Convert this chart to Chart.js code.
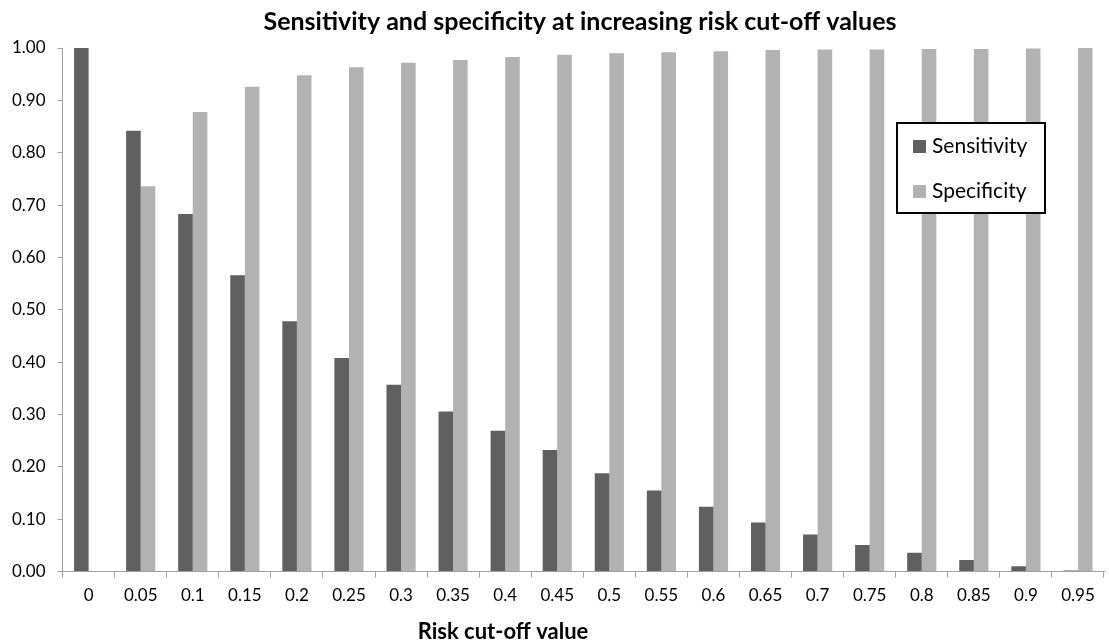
<!DOCTYPE html>
<html>
<head>
<meta charset="utf-8">
<script src="https://cdn.jsdelivr.net/npm/chart.js@4/dist/chart.umd.min.js"></script>
<style>
  html, body { margin: 0; padding: 0; background: #fff; }
  #wrap { width: 1109px; height: 644px; }
</style>
</head>
<body>
<div id="wrap"><canvas id="myChart"></canvas></div>
<script>
// Dados
const cutoffs = ['0', '0.05', '0.1', '0.15', '0.2', '0.25', '0.3', '0.35', '0.4', '0.45',
                 '0.5', '0.55', '0.6', '0.65', '0.7', '0.75', '0.8', '0.85', '0.9', '0.95'];
const sensitivity = [1.00, 0.842, 0.683, 0.566, 0.478, 0.408, 0.357, 0.306, 0.269, 0.232,
                     0.188, 0.155, 0.124, 0.094, 0.071, 0.051, 0.036, 0.022, 0.010, 0.002];
const specificity = [0, 0.736, 0.878, 0.926, 0.948, 0.963, 0.972, 0.977, 0.983, 0.987,
                     0.990, 0.992, 0.994, 0.996, 0.997, 0.997, 0.998, 0.998, 0.999, 1.00];
const seriesNames = ['Sensitivity', 'Specificity'];
const seriesColors = ['#606060', '#b2b2b2'];
const chartTitle = 'Sensitivity and specificity at increasing risk cut-off values';
const xTitle = 'Risk cut-off value';

const FONT = 'Lato, "Open Sans", sans-serif';

// titulo, legenda com moldura preta e titulo do eixo x
const extras = {
    id: 'extras',
    afterDraw(chart) {
        const ctx = chart.ctx;
        ctx.save();
        ctx.fillStyle = '#000';
        ctx.textAlign = 'center';
        ctx.textBaseline = 'middle';
        ctx.font = 'bold 25px ' + FONT;
        ctx.fillText(chartTitle, 580, 22);
        ctx.font = 'bold 22px ' + FONT;
        ctx.fillText(xTitle, 503, 632);

        const x = 897, y = 123, w = 148, h = 90;
        ctx.fillStyle = '#fff';
        ctx.fillRect(x, y, w, h);
        ctx.strokeStyle = '#000';
        ctx.lineWidth = 2;
        ctx.strokeRect(x, y, w, h);
        ctx.font = '21px ' + FONT;
        ctx.textAlign = 'left';
        chart.data.datasets.forEach((ds, i) => {
            const cy = y + 23 + i * 45;
            ctx.fillStyle = ds.backgroundColor;
            ctx.fillRect(x + 16, cy - 6, 13, 13);
            ctx.fillStyle = '#000';
            ctx.fillText(ds.label, x + 35, cy);
        });
        ctx.restore();
    }
};

const ctx = document.getElementById('myChart').getContext('2d');
const myChart = new Chart(ctx, {
    type: 'bar',
    data: {
        labels: cutoffs,
        datasets: [{
            label: seriesNames[0],
            data: sensitivity,
            backgroundColor: seriesColors[0],
            borderWidth: 0
        }, {
            label: seriesNames[1],
            data: specificity,
            backgroundColor: seriesColors[1],
            borderWidth: 0
        }]
    },
    options: {
        responsive: true,
        maintainAspectRatio: false,
        animation: false,
        datasets: {
            bar: { categoryPercentage: 0.56, barPercentage: 1.0 }
        },
        layout: { padding: { left: 0, right: 5, top: 48, bottom: 30 } },
        plugins: {
            legend: { display: false },
            tooltip: { enabled: false },
            title: { display: false }
        },
        scales: {
            x: {
                grid: {
                    display: true,
                    drawOnChartArea: false,
                    drawTicks: true,
                    tickLength: 6,
                    color: '#a0a0a0'
                },
                border: { color: '#a0a0a0' },
                ticks: {
                    color: '#000',
                    font: { family: FONT, size: 17 },
                    padding: 8,
                    maxRotation: 0
                }
            },
            y: {
                min: 0,
                max: 1,
                grid: {
                    display: true,
                    drawOnChartArea: false,
                    drawTicks: true,
                    tickLength: 5,
                    color: '#a0a0a0'
                },
                border: { color: '#a0a0a0' },
                ticks: {
                    stepSize: 0.1,
                    color: '#000',
                    font: { family: FONT, size: 17 },
                    padding: 12,
                    callback: v => v.toFixed(2)
                }
            }
        }
    },
    plugins: [extras]
});
</script>
</body>
</html>
